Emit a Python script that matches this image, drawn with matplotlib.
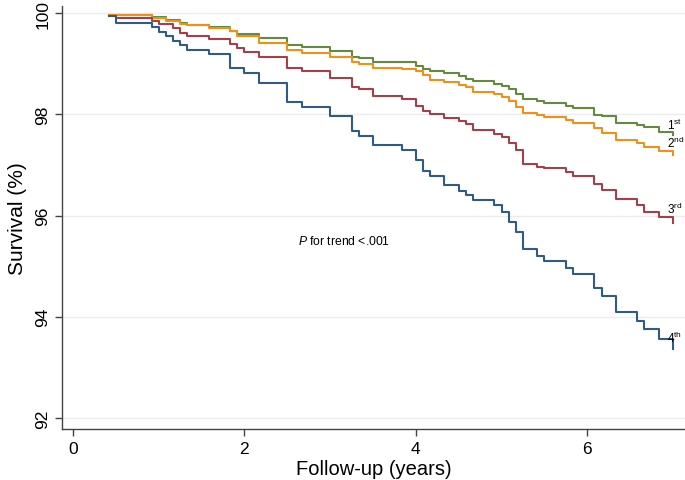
import numpy as np
import matplotlib
matplotlib.use("Agg")
import matplotlib.pyplot as plt

plt.rcParams['font.family'] = ['Liberation Sans', 'DejaVu Sans']
plt.rcParams['mathtext.fontset'] = 'custom'
plt.rcParams['mathtext.rm'] = 'Liberation Sans'
plt.rcParams['mathtext.it'] = 'Liberation Sans:italic'

# event times (months of follow-up) shared by all quartiles
months = [5, 6, 11, 12, 13, 14, 15, 16, 19, 22, 23, 24, 26, 30, 32, 36, 39, 40,
          42, 46, 48, 49, 50, 52, 54, 55, 56, 59, 60, 61, 62, 63, 65, 66, 69, 70,
          73, 74, 76, 79, 80, 82, 84]

surv_q1 = [99.96, 99.96, 99.92, 99.92, 99.86, 99.86, 99.80, 99.76, 99.72, 99.65,
           99.60, 99.60, 99.51, 99.38, 99.34, 99.26, 99.14, 99.12, 99.04, 99.03,
           98.96, 98.90, 98.86, 98.82, 98.76, 98.71, 98.67, 98.61, 98.56, 98.50,
           98.40, 98.31, 98.27, 98.22, 98.17, 98.12, 97.99, 97.96, 97.84, 97.79,
           97.75, 97.65, 97.60]
surv_q2 = [99.96, 99.96, 99.90, 99.90, 99.84, 99.84, 99.78, 99.76, 99.70, 99.66,
           99.55, 99.55, 99.42, 99.27, 99.22, 99.14, 99.03, 98.99, 98.91, 98.90,
           98.86, 98.78, 98.69, 98.65, 98.59, 98.54, 98.45, 98.40, 98.34, 98.27,
           98.15, 98.02, 97.98, 97.94, 97.89, 97.83, 97.73, 97.64, 97.50, 97.43,
           97.35, 97.27, 97.20]
surv_q3 = [99.94, 99.90, 99.84, 99.78, 99.78, 99.70, 99.61, 99.56, 99.49, 99.40,
           99.32, 99.24, 99.14, 98.91, 98.86, 98.73, 98.55, 98.50, 98.36, 98.31,
           98.17, 98.07, 98.01, 97.93, 97.88, 97.81, 97.69, 97.61, 97.56, 97.43,
           97.29, 97.02, 96.97, 96.94, 96.86, 96.79, 96.62, 96.50, 96.32, 96.20,
           96.08, 95.97, 95.86]
surv_q4 = [99.94, 99.81, 99.73, 99.64, 99.55, 99.45, 99.37, 99.27, 99.19, 98.91,
           98.91, 98.82, 98.63, 98.25, 98.15, 97.96, 97.67, 97.58, 97.39, 97.29,
           97.09, 96.89, 96.79, 96.61, 96.49, 96.41, 96.30, 96.20, 96.08, 95.88,
           95.67, 95.33, 95.21, 95.10, 94.97, 94.85, 94.56, 94.41, 94.10, 93.92,
           93.75, 93.56, 93.37]

labels = ['1$^{\\mathrm{st}}$', '2$^{\\mathrm{nd}}$', '3$^{\\mathrm{rd}}$', '4$^{\\mathrm{th}}$']
label_y = [97.71, 97.36, 96.06, 93.50]
colors = ['#638a3d', '#f0901a', '#a5404b', '#2e5b87']

years = np.array(months) / 12

fig = plt.figure(figsize=(6.85, 4.81), dpi=100)
ax = fig.add_axes([0.0905, 0.106, 0.9095, 0.880])

for s, c, lab, ly in zip([surv_q1, surv_q2, surv_q3, surv_q4], colors, labels, label_y):
    ax.plot(years, s, drawstyle='steps-post', color=c, lw=1.5)
    ax.text(6.93, ly, lab, fontsize=8.5, ha='left', va='baseline')

ax.text(2.62, 95.43, '$\\it{P}$ for trend <.001', fontsize=8.7, ha='left', va='baseline')

ax.set_xlim(-0.128, 7.14)
ax.set_ylim(91.78, 100.15)
ax.set_xticks([0, 2, 4, 6])
ax.set_yticks([92, 94, 96, 98, 100])
ax.grid(axis='y', color='#ececec', lw=1)
ax.set_axisbelow(True)
for sp in ['top', 'right']:
    ax.spines[sp].set_visible(False)
for sp in ['left', 'bottom']:
    ax.spines[sp].set_color('#444444')
    ax.spines[sp].set_linewidth(1.0)
ax.tick_params(colors='#444444', labelcolor='black', length=5, width=1, labelsize=12.5)
plt.setp(ax.get_yticklabels(), rotation=90, va='center')
ax.set_xlabel('Follow-up (years)', fontsize=14.5, labelpad=2)
ax.set_ylabel('Survival (%)', fontsize=15, labelpad=6)

fig.savefig('out.png', dpi=100)
